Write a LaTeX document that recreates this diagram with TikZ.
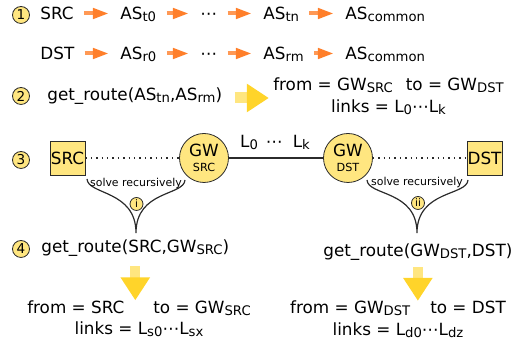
\documentclass[tikz,border=0pt]{standalone}
\usepackage{fontspec}
\setmainfont{DejaVu Sans}
\usetikzlibrary{arrows.meta}

\definecolor{ylw}{HTML}{FFE680}
\definecolor{gold}{HTML}{FFD42A}
\definecolor{orlt}{HTML}{FF9955}
\definecolor{ordk}{HTML}{FF7F2A}
\definecolor{ink}{HTML}{2B2B2B}
\newcommand{\sbs}[1]{\raisebox{-.8pt}{\fontsize{6.6}{7}\selectfont #1}}

\begin{document}
\begin{tikzpicture}
      [x=.5pt,y=-.5pt
      ,txt/.style={inner sep=0,anchor=base west,text height=7.5pt,text depth=1pt,font=\fontsize{8.4}{10.75}\selectfont}
      ,res/.style={inner sep=0,anchor=base,align=center,font=\fontsize{8.4}{10.75}\selectfont}
      ,num/.style={circle,draw=ink,fill=ylw,inner sep=0,minimum size=8.5pt,font=\fontsize{6.8}{7}\selectfont}
      ,sub/.style={circle,draw=ink,fill=ylw,inner sep=0,minimum size=6.5pt,font=\fontsize{5.2}{6}\selectfont}
      ,hop/.style={draw=orlt,line width=2pt,-{Triangle[length=8pt,width=5pt,color=ordk]},shorten <=5pt,shorten >=5.5pt}
      ,big/.style={draw=ylw,line width=5.5pt,-{Triangle[length=11pt,width=13.5pt,color=gold]}}
      ,down/.style={draw=ylw,line width=5pt,-{Triangle[length=11.5pt,width=14pt,color=gold]}}
      ,sq/.style={draw=ink,fill=ylw,inner sep=0,minimum width=17.5pt,minimum height=17pt,font=\fontsize{8.4}{10}\selectfont}
      ,gw/.style={circle,draw=ink,fill=ylw,inner sep=0,minimum size=24.5pt,align=center,font=\fontsize{8.4}{7.35}\selectfont}
      ,brc/.style={draw=ink,line width=.6pt}
      ,tiny/.style={inner sep=0,font=\fontsize{5.45}{6}\selectfont}
      ]
        \useasboundingbox (0,0) rectangle (527,346);
        % step 1: the two AS paths
        \node[num] (n1) at (21,15) {1};
        \node[txt] (src) at (40,20) {SRC};
        \node[txt] (t0) at (120,20) {AS\sbs{t0}};
        \node[txt] (td) at (200,20) {⋯};
        \node[txt] (tn) at (263,20) {AS\sbs{tn}};
        \node[txt] (tc) at (345,20) {AS\sbs{common}};
        \node[txt] (dst) at (40,60) {DST};
        \node[txt] (r0) at (120,60) {AS\sbs{r0}};
        \node[txt] (rd) at (200,60) {⋯};
        \node[txt] (rm) at (263,60) {AS\sbs{rm}};
        \node[txt] (rc) at (345,60) {AS\sbs{common}};
        \foreach \a/\b in {src/t0,t0/td,td/tn,tn/tc,dst/r0,r0/rd,rd/rm,rm/rc}
          \draw[hop] (\a) -- (\b);
        % step 2
        \node[num] (n2) at (21,96) {2};
        \node[txt,text depth=4.5pt] (gr1) at (47,101) {get\_route(AS\sbs{tn},AS\sbs{rm})};
        \node[res] (ft1) at (388.5,112.5) {from = GW\sbs{SRC}\hspace{6.5pt}to = GW\sbs{DST}\\links = L\sbs{0}⋯L\sbs{k}};
        \draw[big,shorten <=6pt,shorten >=2pt] (gr1.east) -- (gr1.east -| ft1.west);
        % step 3
        \node[num] (n3) at (21,160) {3};
        \node[sq] (srcb) at (67.5,158) {SRC};
        \node[gw] (gws) at (204,158) {GW\\{\fontsize{5.6}{6}\selectfont SRC}};
        \node[gw] (gwd) at (348,158) {GW\\{\fontsize{5.6}{6}\selectfont DST}};
        \node[sq] (dstb) at (484.5,158) {DST};
        \draw[ink,dotted,line width=.7pt] (srcb) -- (gws);
        \draw[ink,line width=.75pt] (gws) -- (gwd);
        \draw[ink,dotted,line width=.7pt] (gwd) -- (dstb);
        \node[txt,anchor=base] (lk) at (275,148) {L\sbs{0}\hspace{4pt}⋯\hspace{5pt}L\sbs{k}};
        \coordinate (a1) at (87,179);
        \coordinate (a2) at (185,180);
        \coordinate (a3) at (136,233);
        \coordinate (b1) at (367,180);
        \coordinate (b2) at (468,180);
        \coordinate (b3) at (417,233);
        \draw[brc] (a1) .. controls +(1,16) and +(0,-43) .. (a3) .. controls +(0,-43) and +(-1,16) .. (a2);
        \draw[brc] (b1) .. controls +(1,16) and +(0,-43) .. (b3) .. controls +(0,-43) and +(-1,16) .. (b2);
        \node[tiny] (sr1) at (136,184) {solve recursively};
        \node[tiny] (sr2) at (417,183) {solve recursively};
        \node[sub] (c1) at (136.5,204) {i};
        \node[sub] (c2) at (418,203) {ii};
        % step 4
        \node[num] (n4) at (21,249) {4};
        \node[txt] (gr3) at (41,253) {get\_route(SRC,GW\sbs{SRC})};
        \node[txt] (gr4) at (323,257) {get\_route(GW\sbs{DST},DST)};
        \node[res] (ft3) at (139,335) {from = SRC\hspace{14.5pt}to = GW\sbs{SRC}\\links = L\sbs{s0}⋯L\sbs{sx}};
        \node[res] (ft4) at (398,335.5) {from = GW\sbs{DST}\hspace{10pt}to = DST\\links = L\sbs{d0}⋯L\sbs{dz}};
        \draw[down,shorten <=5.5pt] (gr3.south) -- (gr3.south |- ft3.north);
        \draw[down,shorten <=4pt] (gr4.south) -- (gr4.south |- ft4.north);
      \end{tikzpicture}
\end{document}
